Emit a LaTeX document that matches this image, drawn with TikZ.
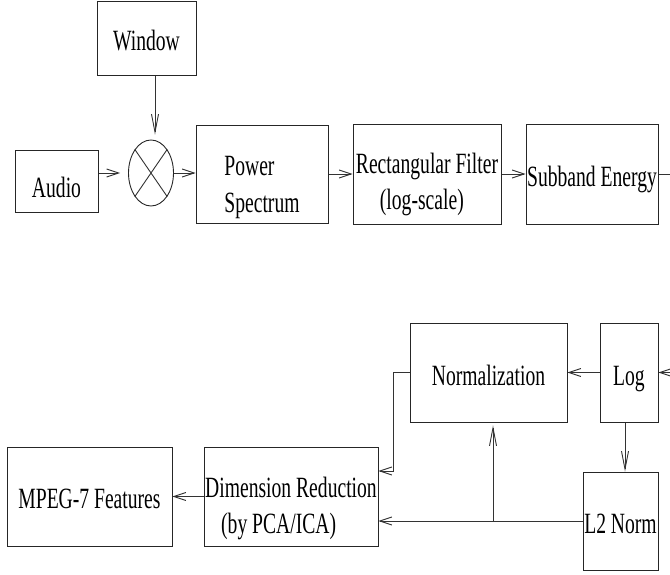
\documentclass[tikz,border=0pt]{standalone}
\usepackage{fontspec}
\newfontfamily\blockfont[FakeStretch=0.667]{Liberation Serif}
\usetikzlibrary{arrows.meta}
\usetikzlibrary{shapes.geometric}
\pgfdeclarelayer{edgelayer}
\pgfdeclarelayer{nodelayer}
\pgfsetlayers{edgelayer,nodelayer,main}
\tikzset{
  block/.style={draw=black!85, line width=0.9pt, rectangle, inner sep=0pt,
    font=\blockfont\fontsize{29.4}{36}\selectfont, text height=24pt, text depth=0pt},
  mixer/.style={draw=black!85, line width=0.9pt, ellipse, inner sep=0pt,
    minimum width=45pt, minimum height=66pt},
  wire/.style={draw=black!80, line width=0.9pt},
  flow/.style={wire, -{Straight Barb[length=12pt,width=8pt]}},
  flowv/.style={wire, -{Straight Barb[length=18pt,width=7pt]}},
}
\begin{document}
\begin{tikzpicture}[x=1pt, y=-1pt]
	\useasboundingbox (0, 0) rectangle (670, 575);
	\begin{pgfonlayer}{nodelayer}
		\node [style=block, minimum width=99pt, minimum height=74pt, text height=25pt] (window) at (146.5, 38) {Window};
		\node [style=mixer] (cross) at (151, 173) {};
		\node [style=block, minimum width=83pt, minimum height=62pt, text height=34pt] (audio) at (56.5, 181) {Audio};
		\node [style=block, minimum width=132pt, minimum height=98pt, align=left, text height=82pt, text depth=6pt] (power) at (262, 174) {Power\\Spectrum};
		\node [style=block, minimum width=148pt, minimum height=100pt, align=left, text height=78pt, text depth=6pt] (rect) at (427, 174) {Rectangular Filter\\\hspace*{24pt}(log-scale)};
		\node [style=block, minimum width=132pt, minimum height=100pt] (sub) at (592, 174) {Subband Energy};
		\node [style=block, minimum width=157pt, minimum height=99pt, text height=25pt] (norm) at (488.5, 372.5) {Normalization};
		\node [style=block, minimum width=58pt, minimum height=99pt, text height=25pt] (log) at (629, 372.5) {Log};
		\node [style=block, minimum width=75pt, minimum height=98pt] (l2) at (620.5, 521) {L2 Norm};
		\node [style=block, minimum width=174pt, minimum height=99pt, align=left, text height=79pt, text depth=6pt] (dim) at (291, 496.5) {Dimension Reduction\\\hspace*{16pt}(by PCA/ICA)};
		\node [style=block, minimum width=165pt, minimum height=99pt, text height=23pt] (mpeg) at (89.5, 496.5) {MPEG-7 Features};
		\coordinate (split) at (493, 521);
	\end{pgfonlayer}
	\begin{pgfonlayer}{edgelayer}
		\draw [style=wire] (cross.north west) to (cross.south east);
		\draw [style=wire] (cross.north east) to (cross.south west);
		\draw [style=flowv, shorten >=5pt] ([xshift=8.5pt]window.south) to ([xshift=4pt]cross.north);
		\draw [style=flow, shorten >=8pt] (audio.east |- cross.west) to (cross.west);
		\draw [style=flow] (cross.east) to (power.west |- cross.east);
		\draw [style=flow] (power.east) to (rect.west);
		\draw [style=flow] (rect.east) to (sub.west);
		\draw [style=flow] (sub.east) -- ++(40, 0) |- (log.east);
		\draw [style=flow] (log.west) to (norm.east);
		\draw [style=flowv] ([xshift=-4pt]log.south) to ([xshift=4.5pt]l2.north);
		\draw [style=flow] (l2.west) to (l2.west -| dim.east);
		\draw [style=flowv, shorten >=3pt] (split) to (split |- norm.south);
		\draw [style=flow] (norm.west) -- ++(-16, 0) |- ([yshift=25.5pt]dim.east);
		\draw [style=flow] (dim.west) to (mpeg.east);
	\end{pgfonlayer}
\end{tikzpicture}
\end{document}
